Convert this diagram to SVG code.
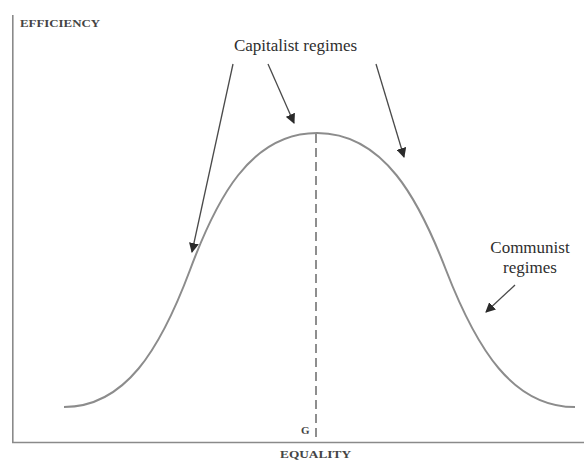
<svg xmlns="http://www.w3.org/2000/svg" width="584" height="464" viewBox="0 0 584 464">
  <defs>
    <marker id="head" viewBox="0 0 10 10" refX="9" refY="5" markerWidth="10" markerHeight="10" markerUnits="userSpaceOnUse" orient="auto">
      <path d="M0,0 L10,5 L0,10 Z" fill="#2a2a2a"/>
    </marker>
    <style>
      .axis { stroke: #8a8a8a; stroke-width: 1.6; fill: none; }
      .curve { stroke: #8c8c8c; stroke-width: 2; fill: none; }
      .guide { stroke: #444; stroke-width: 1.2; stroke-dasharray: 9 5; fill: none; }
      .arrow { stroke: #4a4a4a; stroke-width: 1.3; fill: none; marker-end: url(#head); }
      .label { font-family: "Liberation Serif", "Times New Roman", serif; fill: #2e2e2e; }
      .axislabel { font-family: "Liberation Serif", "Times New Roman", serif; font-weight: bold; font-size: 11px; fill: #444; }
    </style>
  </defs>
  <rect width="584" height="464" fill="#ffffff"/>

  <!-- axes -->
  <g id="axes">
    <path class="axis" d="M12.8,15 L12.8,442.5 L584,442.5"/>
    <text class="axislabel" x="20" y="27" textLength="80" lengthAdjust="spacingAndGlyphs">EFFICIENCY</text>
    <text class="axislabel" x="280" y="458" textLength="71" lengthAdjust="spacingAndGlyphs">EQUALITY</text>
    <text class="axislabel" x="301" y="434" font-size="12">G</text>
  </g>

  <!-- efficiency/equality curve -->
  <g id="curve">
    <path class="curve" d="M64,407 C125,407 160,350 190,270 C216,200 250,133 317,133 C384,133 419,200 446,270 C477,350 513,407 575,407"/>
  </g>

  <!-- vertical guide through the peak -->
  <g id="peak-guide">
    <path class="guide" d="M316,134 L316,442"/>
  </g>

  <g id="capitalist-label">
    <text class="label" x="295.5" y="51" font-size="17" text-anchor="middle">Capitalist regimes</text>
  </g>

  <g id="communist-label">
    <text class="label" x="530" y="253" font-size="17" text-anchor="middle">Communist</text>
    <text class="label" x="530" y="273" font-size="17" text-anchor="middle">regimes</text>
  </g>

  <!-- pointer arrows -->
  <g id="connectors">
    <path class="arrow" d="M233,64 L192,252"/>
    <path class="arrow" d="M268,64 L294,123"/>
    <path class="arrow" d="M376,64 L404,157"/>
    <path class="arrow" d="M515,285 L486,312"/>
  </g>
</svg>
